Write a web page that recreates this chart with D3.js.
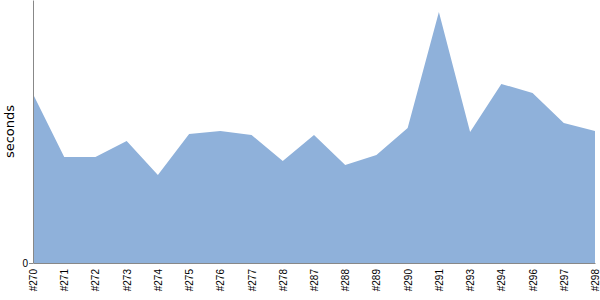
<!DOCTYPE html>
<html>
<head>
<meta charset="utf-8">
<script src="https://cdn.jsdelivr.net/npm/d3@7"></script>
<style>
  body { margin: 0; background: #fff; }
  svg { font-family: "DejaVu Sans", sans-serif; }
  .axis path, .axis line { stroke: #888; }
  .axis text { fill: #000; font-size: 10px; }
</style>
</head>
<body>
<div id="chart"></div>
<script>
//Build numbers shown along the x axis
var builds = ["#270", "#271", "#272", "#273", "#274", "#275", "#276", "#277", "#278", "#287",
              "#288", "#289", "#290", "#291", "#293", "#294", "#296", "#297", "#298"];

//Duration of each build in seconds
var durations = [675, 423, 423, 487, 351, 515, 527, 511, 407, 511,
                 391, 431, 539, 1002, 523, 715, 679, 559, 527];

//Only the zero tick is labelled on the y axis
var yTicks = [0];
var yMax = 1050;

var width = 600, height = 300;
var margin = { top: 0, right: 5, bottom: 37, left: 33 };

var svg = d3.select("#chart").append("svg")
    .attr("width", width)
    .attr("height", height);

var x = d3.scalePoint()
    .domain(builds)
    .range([margin.left, width - margin.right]);

var y = d3.scaleLinear()
    .domain([0, yMax])
    .range([height - margin.bottom, margin.top]);

//Area under the durations
var area = d3.area()
    .x(function(d, i) { return x(builds[i]); })
    .y0(y(0))
    .y1(function(d) { return y(d); });

svg.append("path")
    .datum(durations)
    .attr("fill", "#8fb1da")
    .attr("d", area);

//x axis with rotated build labels
svg.append("g")
    .attr("class", "axis")
    .attr("transform", "translate(0," + y(0) + ")")
    .call(d3.axisBottom(x).tickSize(0).tickSizeOuter(0))
    .selectAll("text")
    .attr("transform", "rotate(-90)")
    .attr("text-anchor", "end")
    .attr("x", -6)
    .attr("y", 0)
    .attr("dy", "0.35em");

//y axis
svg.append("g")
    .attr("class", "axis")
    .attr("transform", "translate(" + margin.left + ",0)")
    .call(d3.axisLeft(y).tickValues(yTicks).tickSize(4).tickSizeOuter(0))
    .selectAll("text")
    .attr("x", -5);

//y axis title
svg.append("text")
    .attr("transform", "rotate(-90)")
    .attr("x", -(margin.top + (height - margin.bottom)) / 2)
    .attr("y", 14)
    .attr("text-anchor", "middle")
    .style("font-size", "13px")
    .text("seconds");
</script>
</body>
</html>
